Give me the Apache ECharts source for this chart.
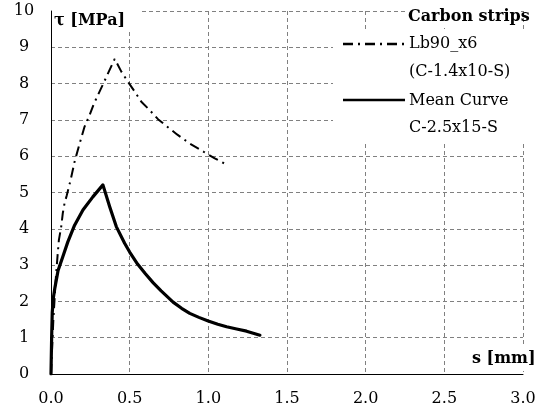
<!DOCTYPE html>
<html>
<head>
<meta charset="utf-8">
<script src="https://cdn.jsdelivr.net/npm/echarts@6/dist/echarts.min.js"></script>
<style>html,body{margin:0;padding:0;background:#fff;}#c{width:544px;height:415px;}</style>
</head>
<body>
<div id="c"></div>
<script>
// s [mm] and tau [MPa] values
const lbS   = [0, 0.015, 0.03, 0.043, 0.05, 0.065, 0.075, 0.086, 0.10, 0.125, 0.15, 0.182, 0.213, 0.245, 0.273, 0.313, 0.341, 0.377, 0.405, 0.447, 0.489, 0.532, 0.574, 0.627, 0.680, 0.734, 0.801, 0.882, 0.971, 1.041, 1.111];
const lbTau = [0, 1.5, 2.6, 3.33, 3.69, 4.06, 4.43, 4.70, 4.92, 5.35, 5.85, 6.35, 6.81, 7.13, 7.45, 7.82, 8.08, 8.42, 8.68, 8.33, 8.05, 7.78, 7.50, 7.27, 7.02, 6.83, 6.60, 6.35, 6.12, 5.94, 5.78];
const meanS   = [0, 0.004, 0.008, 0.015, 0.025, 0.045, 0.075, 0.107, 0.150, 0.203, 0.266, 0.33, 0.373, 0.415, 0.468, 0.50, 0.55, 0.60, 0.65, 0.70, 0.776, 0.83, 0.882, 0.94, 0.999, 1.06, 1.116, 1.18, 1.243, 1.328];
const meanTau = [0, 1.0, 1.7, 2.1, 2.38, 2.85, 3.23, 3.64, 4.10, 4.52, 4.88, 5.21, 4.61, 4.06, 3.60, 3.36, 3.03, 2.76, 2.51, 2.29, 1.98, 1.81, 1.67, 1.56, 1.46, 1.37, 1.30, 1.24, 1.18, 1.07];
const xTicks = [0, 0.5, 1.0, 1.5, 2.0, 2.5, 3.0];
const yTicks = [0, 1, 2, 3, 4, 5, 6, 7, 8, 9, 10];
const seriesNames = ['Lb90_x6', 'Mean Curve'];
const legendSub = ['(C-1.4x10-S)', 'C-2.5x15-S'];
const legendTitle = 'Carbon strips';
const xName = 's [mm]';
const yName = 'τ [MPa]';

const FONT = 'DejaVu Serif';
const zip = (a, b) => a.map((v, i) => [v, b[i]]);

const chart = echarts.init(document.getElementById('c'));
chart.setOption({
  animation: false,
  backgroundColor: '#fff',
  grid: { left: 51, right: 21, top: 11, bottom: 41 },
  xAxis: {
    type: 'value', min: xTicks[0], max: xTicks[xTicks.length - 1], interval: 0.5,
    axisLine: { onZero: false, lineStyle: { color: '#000', width: 1 } },
    axisTick: { show: false },
    axisLabel: { margin: 17, color: '#000', fontFamily: FONT, fontSize: 16, formatter: v => v.toFixed(1) },
    splitLine: { show: true, lineStyle: { color: '#808080', type: [4, 3], width: 1 } }
  },
  yAxis: {
    type: 'value', min: yTicks[0], max: yTicks[yTicks.length - 1], interval: 1,
    axisLine: { show: true, lineStyle: { color: '#000', width: 1 } },
    axisTick: { show: false },
    axisLabel: { margin: 27, align: 'center', color: '#000', fontFamily: FONT, fontSize: 16 },
    splitLine: { show: true, lineStyle: { color: '#808080', type: [4, 3], width: 1 } }
  },
  series: [
    { name: seriesNames[0], type: 'line', data: zip(lbS, lbTau), showSymbol: false, smooth: false,
      lineStyle: { color: '#000', width: 2, type: [10, 5, 2, 5] }, z: 3 },
    { name: seriesNames[1], type: 'line', data: zip(meanS, meanTau), showSymbol: false, smooth: false,
      lineStyle: { color: '#000', width: 3.2, join: 'round', cap: 'round' }, z: 4 }
  ],
  graphic: [
    { type: 'rect', z: 10, shape: { x: 333, y: 30, width: 211, height: 113 }, style: { fill: '#fff' } },
    { type: 'rect', z: 10, shape: { x: 405, y: 4, width: 116, height: 24 }, style: { fill: '#fff' } },
    { type: 'rect', z: 10, shape: { x: 52, y: 2, width: 88, height: 28 }, style: { fill: '#fff' } },
    { type: 'rect', z: 10, shape: { x: 468, y: 347, width: 76, height: 24 }, style: { fill: '#fff' } },
    { type: 'text', z: 11, style: { x: 54, y: 21, text: yName, font: 'bold 16px "DejaVu Serif"', fill: '#000', textVerticalAlign: 'middle' } },
    { type: 'text', z: 11, style: { x: 408, y: 17, text: legendTitle, font: 'bold 16px "DejaVu Serif"', fill: '#000', textVerticalAlign: 'middle' } },
    { type: 'text', z: 11, style: { x: 472, y: 359, text: xName, font: 'bold 16px "DejaVu Serif"', fill: '#000', textVerticalAlign: 'middle' } },
    { type: 'line', z: 11, shape: { x1: 343, y1: 44, x2: 405, y2: 44 }, style: { stroke: '#000', lineWidth: 2.5, lineDash: [10, 5, 2, 5] } },
    { type: 'text', z: 11, style: { x: 409, y: 44, text: seriesNames[0], font: '16px "DejaVu Serif"', fill: '#000', textVerticalAlign: 'middle' } },
    { type: 'text', z: 11, style: { x: 409, y: 72, text: legendSub[0], font: '16px "DejaVu Serif"', fill: '#000', textVerticalAlign: 'middle' } },
    { type: 'line', z: 11, shape: { x1: 343, y1: 100, x2: 405, y2: 100 }, style: { stroke: '#000', lineWidth: 2.5 } },
    { type: 'text', z: 11, style: { x: 409, y: 101, text: seriesNames[1], font: '16px "DejaVu Serif"', fill: '#000', textVerticalAlign: 'middle' } },
    { type: 'text', z: 11, style: { x: 409, y: 128, text: legendSub[1], font: '16px "DejaVu Serif"', fill: '#000', textVerticalAlign: 'middle' } }
  ]
});
</script>
</body>
</html>
